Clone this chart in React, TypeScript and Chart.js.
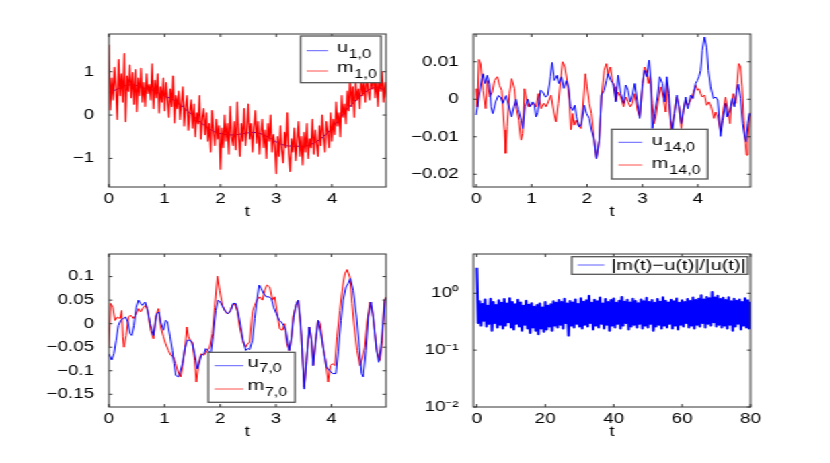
import React, { useEffect, useRef } from "react";
import Chart from "chart.js/auto";

// the original figure is stretched sideways, so everything is drawn narrow and scaled in x
const S = 1.345;
const FONT = "'Liberation Sans', Arial, sans-serif";
const BLUE = "#0000ff";
const RED = "#ff0000";

// ---- panel 1: u_{1,0} (every 0.1) and m_{1,0} (every 0.025)
const u10Dt = 0.1;
const u10 = [
  0.52, 0.57, 0.63, 0.68, 0.7, 0.68, 0.63, 0.6, 0.57, 0.5,
  0.43, 0.39, 0.32, 0.22, 0.1, 0.0, -0.12, -0.23, -0.32, -0.39,
  -0.43, -0.45, -0.46, -0.45, -0.43, -0.41, -0.4, -0.42, -0.47, -0.54,
  -0.62, -0.68, -0.71, -0.72, -0.72, -0.72, -0.7, -0.63, -0.55, -0.44,
  -0.31, -0.15, 0.02, 0.17, 0.3, 0.42, 0.53, 0.61, 0.65, 0.6, 0.48,
];
const m10Dt = 0.025;
const m10 = [
  1.62, 0.12, 0.85, 0.35, 1.1, 0.6, -0.1, 1.28, 0.45, 0.95,
  0.3, 1.42, -0.15, 0.9, 0.55, 1.15, 0.4, 0.98, 0.25, 1.05,
  0.08, 0.85, 0.45, 1.08, 0.3, 0.75, 0.2, 0.95, 0.5, 0.7,
  0.35, 1.18, 0.15, 0.8, 0.4, 0.95, 0.05, 0.65, 0.3, 0.85,
  0.1, 0.75, 0.35, -0.05, 0.6, 0.2, 0.9, -0.18, 0.45, 0.15,
  0.55, -0.1, 0.3, 0.65, -0.25, 0.2, 0.45, -0.35, 0.1, 0.35,
  -0.3, 0.25, -0.5, 0.05, -0.2, 0.45, -0.55, -0.05, 0.15, -0.45,
  0.05, -0.6, -0.2, -0.85, 0.1, -0.4, -0.7, -0.1, -0.55, -0.25,
  -1.25, -0.3, -0.75, 0.0, -0.6, -0.2, -0.9, 0.2, -0.5, -0.7,
  -0.15, -0.8, 0.3, -0.45, -0.95, -0.2, -0.6, 0.15, -0.7, -0.35,
  0.25, -0.55, -0.2, -0.85, -0.3, 0.1, -0.65, -0.15, -0.9, -0.4,
  -0.1, -0.75, -0.35, -1.0, -0.2, -0.6, 0.0, -0.85, -0.45, -0.7,
  -1.35, -0.5, -0.95, -0.25, -0.8, -1.1, -0.4, -0.75, 0.05, -0.9,
  -1.3, -0.55, -0.85, -0.3, -1.05, -0.6, -0.15, -0.95, -0.5, -1.15,
  -0.4, -0.85, -0.2, -1.0, -0.55, -0.75, -0.1, -0.9, -0.35, -0.65,
  -0.95, -0.25, -0.7, 0.0, -0.5, -0.85, -0.15, -0.4, -0.75, 0.05,
  -0.6, -0.1, -0.45, 0.3, -0.25, 0.05, -0.5, 0.45, -0.05, 0.25,
  -0.2, 0.55, 0.1, 0.9, 0.2, 0.65, -0.05, 0.8, 0.35, 0.6,
  0.15, 0.95, 0.45, 0.75, 0.3, 1.0, 0.55, 0.35, 0.9, 0.6,
  1.05, 0.4, 0.85, 0.2, 0.95, 0.55, 1.0, 0.3, 0.75, 0.4,
];

// ---- panel 2: u_{14,0}, m_{14,0}
const u14T = [
  0, 0.05, 0.1, 0.125, 0.16, 0.2, 0.24, 0.27, 0.3, 0.35,
  0.4, 0.44, 0.48, 0.54, 0.58, 0.64, 0.68, 0.72, 0.76, 0.81,
  0.84, 0.88, 0.93, 0.97, 1.02, 1.05, 1.08, 1.11, 1.16, 1.2,
  1.25, 1.29, 1.34, 1.37, 1.41, 1.46, 1.49, 1.54, 1.58, 1.63,
  1.67, 1.7, 1.74, 1.78, 1.81, 1.86, 1.9, 1.95, 1.99, 2.04,
  2.08, 2.13, 2.17, 2.22, 2.26, 2.31, 2.35, 2.38, 2.43, 2.47,
  2.52, 2.56, 2.61, 2.66, 2.7, 2.74, 2.78, 2.82, 2.86, 2.91,
  2.95, 3.0, 3.04, 3.08, 3.12, 3.15, 3.18, 3.22, 3.27, 3.31,
  3.36, 3.4, 3.44, 3.48, 3.51, 3.54, 3.58, 3.62, 3.66, 3.7,
  3.74, 3.78, 3.82, 3.87, 3.91, 3.96, 3.99, 4.02, 4.05, 4.08,
  4.12, 4.16, 4.19, 4.23, 4.28, 4.32, 4.36, 4.41, 4.45, 4.5,
  4.53, 4.58, 4.62, 4.66, 4.7, 4.73, 4.77, 4.81, 4.84, 4.87,
  4.9, 4.93, 4.97,
];
const u14 = [
  -0.0042, 0.0006, 0.0055, 0.0068, 0.0042, 0.0064, 0.004, -0.002, -0.0038, -0.0007,
  0.001, 0.0006, -0.0011, 0.001, -0.0013, -0.0047, -0.002, 0.0, -0.0027, -0.0056,
  -0.0078, -0.002, 0.0, -0.002, -0.0007, -0.0015, -0.0047, -0.0035, 0.0024, 0.002,
  0.0006, 0.001, 0.006, 0.0098, 0.005, 0.0064, 0.0042, 0.006, 0.0029, 0.005,
  0.0029, -0.0019, -0.003, -0.0016, -0.0047, -0.0074, -0.0065, -0.0016, -0.0038, -0.0051,
  -0.0082, -0.0109, -0.0158, -0.0109, 0.0011, 0.0024, 0.005, 0.0068, 0.005, 0.0042,
  -0.0007, 0.0064, 0.0015, -0.0011, 0.0038, 0.0024, -0.0007, 0.0011, 0.0042, -0.0007,
  -0.0051, 0.0042, 0.0077, 0.006, 0.0104, 0.005, -0.0078, -0.0038, 0.0006, 0.006,
  0.0042, -0.0007, 0.006, 0.0015, -0.0056, -0.0082, -0.0038, 0.0011, -0.002, -0.0065,
  -0.0029, 0.0006, -0.0025, 0.0011, 0.0002, 0.0042, 0.005, 0.006, 0.0077, 0.013,
  0.0166, 0.0139, 0.0077, 0.0033, 0.0002, 0.0006, -0.0002, -0.0099, -0.0056, -0.0011,
  -0.0047, -0.0029, 0.0002, -0.002, 0.0024, 0.004, 0.0002, -0.0065, -0.0095, -0.0113,
  -0.0065, -0.0038, -0.0047,
];
const m14T = [
  0, 0.02, 0.05, 0.08, 0.125, 0.17, 0.2, 0.245, 0.29, 0.33,
  0.38, 0.42, 0.46, 0.51, 0.53, 0.56, 0.6, 0.64, 0.69, 0.72,
  0.77, 0.81, 0.84, 0.87, 0.9, 0.94, 0.99, 1.04, 1.08, 1.12,
  1.17, 1.22, 1.26, 1.3, 1.35, 1.4, 1.44, 1.48, 1.53, 1.56,
  1.6, 1.64, 1.68, 1.71, 1.74, 1.77, 1.8, 1.84, 1.89, 1.94,
  1.97, 2.0, 2.04, 2.08, 2.13, 2.17, 2.22, 2.26, 2.31, 2.35,
  2.38, 2.42, 2.46, 2.5, 2.52, 2.56, 2.61, 2.66, 2.7, 2.74,
  2.78, 2.82, 2.86, 2.91, 2.95, 3.0, 3.04, 3.08, 3.11, 3.14,
  3.18, 3.21, 3.24, 3.28, 3.33, 3.38, 3.42, 3.45, 3.48, 3.52,
  3.57, 3.62, 3.66, 3.7, 3.74, 3.78, 3.82, 3.87, 3.92, 3.96,
  3.99, 4.02, 4.05, 4.08, 4.12, 4.16, 4.2, 4.24, 4.29, 4.32,
  4.36, 4.41, 4.46, 4.5, 4.54, 4.58, 4.6, 4.64, 4.68, 4.71,
  4.74, 4.77, 4.8, 4.83, 4.86, 4.88, 4.9, 4.93, 4.97,
];
const m14 = [
  0.0028, -0.002, 0.0106, 0.0094, 0.0024, -0.0025, 0.005, 0.0006, 0.0019, 0.005,
  0.006, 0.0037, 0.0024, -0.0082, -0.0144, -0.0073, 0.0015, 0.0055, 0.0028, -0.002,
  -0.0056, -0.0109, -0.0091, 0.0028, 0.0006, -0.002, -0.0016, -0.0011, -0.002, 0.0015,
  -0.0025, -0.0011, -0.002, -0.0007, 0.0011, -0.0034, -0.006, -0.0011, 0.006, 0.01,
  0.0086, 0.005, -0.0003, -0.0081, -0.0038, -0.0069, -0.0056, -0.0069, -0.0078, 0.0006,
  0.0068, 0.0033, -0.0011, -0.0038, -0.0109, -0.0158, -0.0109, 0.0006, 0.0077, 0.0095,
  0.0064, 0.0086, 0.0046, 0.0033, -0.0003, 0.0019, 0.0006, -0.002, 0.0006, -0.0007,
  -0.002, -0.0011, 0.0015, -0.0029, -0.0047, 0.0033, 0.0086, 0.0068, 0.0042, 0.0064,
  -0.0011, -0.0065, -0.0047, -0.0007, 0.0033, 0.0002, -0.0034, 0.0042, -0.0011, -0.0082,
  -0.0038, 0.0006, -0.002, -0.0078, -0.0029, -0.0003, -0.0016, -0.0003, 0.0019, 0.0037,
  0.0024, 0.0028, 0.0015, 0.0006, 0.0011, -0.0016, -0.0007, -0.002, -0.0051, -0.0034,
  -0.0047, -0.0086, -0.0029, 0.0006, -0.0029, -0.0065, -0.002, 0.0015, -0.0011, 0.0042,
  0.0095, 0.0086, 0.0033, -0.0056, -0.0117, -0.0149, -0.0109, -0.0047, -0.0029,
];

// ---- panel 3: u_{7,0}, m_{7,0}
const u7T = [
  0, 0.05, 0.09, 0.13, 0.17, 0.21, 0.26, 0.3, 0.34, 0.38,
  0.41, 0.45, 0.49, 0.53, 0.57, 0.6, 0.65, 0.69, 0.74, 0.8,
  0.86, 0.9, 0.93, 0.98, 1.02, 1.05, 1.1, 1.14, 1.17, 1.2,
  1.25, 1.28, 1.32, 1.37, 1.41, 1.46, 1.5, 1.54, 1.59, 1.62,
  1.66, 1.71, 1.74, 1.78, 1.83, 1.87, 1.92, 1.96, 2.0, 2.05,
  2.1, 2.14, 2.19, 2.23, 2.28, 2.32, 2.37, 2.41, 2.46, 2.5,
  2.53, 2.58, 2.62, 2.66, 2.7, 2.74, 2.78, 2.83, 2.88, 2.92,
  2.96, 3.01, 3.06, 3.1, 3.14, 3.18, 3.21, 3.24, 3.28, 3.32,
  3.36, 3.4, 3.44, 3.47, 3.51, 3.55, 3.6, 3.64, 3.67, 3.72,
  3.76, 3.82, 3.87, 3.91, 3.96, 4.02, 4.08, 4.12, 4.17, 4.21,
  4.26, 4.3, 4.34, 4.39, 4.45, 4.5, 4.54, 4.57, 4.62, 4.66,
  4.71, 4.75, 4.81, 4.85, 4.9, 4.96, 4.98,
];
const u7 = [
  -0.064, -0.077, -0.064, -0.035, -0.004, 0.007, 0.011, 0.014, 0.0035, -0.021,
  -0.025, -0.0035, 0.035, 0.05, 0.043, 0.039, 0.046, 0.032, 0.0, -0.025,
  0.021, 0.025, 0.0035, -0.014, 0.007, 0.004, -0.028, -0.057, -0.085, -0.11,
  -0.113, -0.103, -0.085, -0.05, -0.035, -0.035, -0.043, -0.064, -0.096, -0.085,
  -0.067, -0.064, -0.053, -0.057, -0.064, -0.028, 0.028, 0.05, 0.046, 0.035,
  0.025, 0.021, 0.028, 0.043, 0.043, 0.025, -0.007, -0.035, -0.057, -0.053,
  -0.055, -0.035, 0.011, 0.05, 0.082, 0.074, 0.064, 0.057, 0.057, 0.053,
  0.035, 0.021, 0.007, 0.0035, -0.0035, -0.014, -0.039, -0.057, -0.03, 0.014,
  0.039, 0.05, 0.01, -0.05, -0.139, -0.08, -0.007, -0.035, -0.089, -0.035,
  0.007, -0.028, -0.064, -0.092, -0.099, -0.106, -0.106, -0.06, 0.007, 0.05,
  0.078, 0.085, 0.096, 0.071, 0.014, -0.05, -0.106, -0.113, -0.057, 0.014,
  0.046, 0.014, -0.057, -0.082, -0.035, 0.05, 0.055,
];
const m7T = [
  0, 0.03, 0.07, 0.11, 0.15, 0.2, 0.23, 0.25, 0.27, 0.31,
  0.35, 0.39, 0.44, 0.49, 0.53, 0.57, 0.62, 0.66, 0.7, 0.75,
  0.8, 0.84, 0.89, 0.93, 0.98, 1.02, 1.07, 1.11, 1.16, 1.2,
  1.25, 1.29, 1.32, 1.37, 1.4, 1.43, 1.46, 1.5, 1.54, 1.57,
  1.62, 1.66, 1.71, 1.75, 1.81, 1.86, 1.9, 1.95, 1.99, 2.04,
  2.08, 2.13, 2.17, 2.22, 2.26, 2.31, 2.35, 2.41, 2.46, 2.49,
  2.53, 2.58, 2.62, 2.66, 2.71, 2.76, 2.8, 2.84, 2.89, 2.94,
  2.98, 3.02, 3.07, 3.12, 3.16, 3.2, 3.24, 3.28, 3.31, 3.36,
  3.4, 3.46, 3.51, 3.55, 3.6, 3.64, 3.67, 3.72, 3.76, 3.8,
  3.85, 3.9, 3.94, 3.98, 4.02, 4.06, 4.1, 4.15, 4.2, 4.24,
  4.28, 4.33, 4.37, 4.41, 4.46, 4.51, 4.56, 4.6, 4.64, 4.69,
  4.74, 4.78, 4.82, 4.87, 4.91, 4.95, 4.98,
];
const m7 = [
  -0.05, 0.043, 0.035, 0.007, 0.014, 0.011, 0.028, -0.028, -0.05, -0.025,
  0.014, 0.018, 0.011, 0.021, 0.032, 0.025, 0.035, 0.039, 0.025, -0.014,
  -0.032, 0.014, 0.032, -0.007, -0.028, -0.043, -0.057, -0.067, -0.071, -0.085,
  -0.106, -0.113, -0.092, -0.05, -0.007, -0.028, -0.035, -0.039, -0.078, -0.124,
  -0.078, -0.064, -0.067, -0.06, -0.05, -0.021, 0.035, 0.101, 0.071, 0.039,
  0.028, 0.021, 0.025, 0.039, 0.043, 0.025, -0.007, -0.039, -0.05, -0.043,
  -0.039, 0.025, 0.039, 0.05, 0.057, 0.05, 0.071, 0.082, 0.078, 0.05,
  0.057, 0.025, -0.011, -0.014, 0.0, -0.043, -0.057, -0.03, 0.014, 0.039,
  0.05, -0.028, -0.135, -0.078, -0.007, -0.035, -0.089, -0.028, 0.007, 0.0,
  -0.05, -0.085, -0.124, -0.089, -0.085, -0.089, -0.028, 0.028, 0.078, 0.106,
  0.115, 0.099, 0.043, -0.007, -0.057, -0.089, -0.071, -0.05, 0.0035, 0.046,
  0.021, -0.021, -0.06, -0.078, -0.043, 0.05, 0.057,
];

// ---- panel 4: |m(t)-u(t)|/|u(t)|, every 0.4
const errDt = 0.4;
const err = [
  2.8,
  0.3, 0.72, 0.27, 0.65, 0.33, 0.78, 0.26, 0.6, 0.29, 0.8, 0.22, 0.7, 0.3, 0.62, 0.25, 0.75, 0.28, 0.68, 0.24, 0.79,
  0.27, 0.66, 0.31, 0.82, 0.25, 0.7, 0.23, 0.64, 0.29, 0.77, 0.26, 0.69, 0.22, 0.6, 0.28, 0.74, 0.24, 0.63, 0.2, 0.67,
  0.25, 0.58, 0.22, 0.62, 0.19, 0.66, 0.24, 0.56, 0.21, 0.7, 0.23, 0.6, 0.26, 0.64, 0.22, 0.72, 0.27, 0.68, 0.25, 0.76,
  0.28, 0.7, 0.24, 0.8, 0.3, 0.66, 0.18, 0.73, 0.27, 0.69, 0.25, 0.78, 0.29, 0.65, 0.26, 0.82, 0.24, 0.71, 0.28, 0.75,
  0.26, 0.9, 0.3, 0.68, 0.23, 0.77, 0.27, 0.72, 0.25, 0.84, 0.29, 0.66, 0.24, 0.79, 0.28, 0.7, 0.22, 0.76, 0.27, 0.81,
  0.25, 0.68, 0.29, 0.74, 0.24, 0.86, 0.27, 0.71, 0.3, 0.77, 0.23, 0.69, 0.26, 0.8, 0.28, 0.73, 0.25, 0.67, 0.29, 0.78,
  0.24, 0.72, 0.27, 0.83, 0.25, 0.7, 0.29, 0.76, 0.22, 0.68, 0.26, 0.79, 0.28, 0.71, 0.24, 0.85, 0.27, 0.74, 0.25, 0.69,
  0.29, 0.77, 0.24, 0.72, 0.27, 0.81, 0.23, 0.68, 0.28, 0.75, 0.26, 0.7, 0.3, 0.79, 0.25, 0.73, 0.27, 0.84, 0.24, 0.76,
  0.28, 0.8, 0.26, 0.92, 0.3, 0.78, 0.25, 0.86, 0.29, 0.82, 0.27, 1.05, 0.31, 0.84, 0.26, 0.9, 0.28, 0.79, 0.25, 0.83,
  0.27, 0.76, 0.24, 0.85, 0.28, 0.72, 0.22, 0.8, 0.26, 0.74, 0.29, 0.78, 0.23, 0.7, 0.27, 0.82, 0.25, 0.75, 0.24, 0.71,
];

// ---- ticks
const tTicks = [0, 1, 2, 3, 4];
const tLabels = ["0", "1", "2", "3", "4"];
const errTicks = [0, 20, 40, 60, 80];
const errLabels = ["0", "20", "40", "60", "80"];
const y1Ticks = [-1, 0, 1];
const y1Labels = ["\u22121", "0", "1"];
const y2Ticks = [-0.02, -0.01, 0, 0.01];
const y2Labels = ["\u22120.02", "\u22120.01", "0", "0.01"];
const y3Ticks = [-0.15, -0.1, -0.05, 0, 0.05, 0.1];
const y3Labels = ["\u22120.15", "\u22120.1", "\u22120.05", "0", "0.05", "0.1"];
const y4Ticks = [0.01, 0.1, 1];
const y4Labels = ["10\u207B\u00B2", "10\u207B\u00B9", "10\u2070"];

type Pt = { x: number; y: number };
const stepped = (dt: number, ys: number[]): Pt[] => ys.map((y, i) => ({ x: i * dt, y }));
const paired = (ts: number[], ys: number[]): Pt[] => ts.map((x, i) => ({ x, y: ys[i] }));

type Row = { color: string; main: string; sub?: string };
type Legend = {
  box: [number, number, number, number]; // page px
  line: [number, number];
  textX: number;
  rowsY: number[];
  dy: number;
  subDy: number;
  rows: Row[];
};

type PanelProps = {
  area: [number, number, number, number]; // page px: left, top, right, bottom
  series: { data: Pt[]; color: string; width?: number }[];
  x: [number, number];
  y: [number, number];
  log?: boolean;
  xTicks: number[];
  xLabels: string[];
  yTicks: number[];
  yLabels: string[];
  legend: Legend;
};

function Panel(p: PanelProps) {
  const ref = useRef<HTMLCanvasElement>(null);
  const left = p.area[0] / S - 60;
  const top = p.area[1] - 20;
  const width = Math.round((p.area[2] - p.area[0]) / S) + 80;
  const height = Math.round(p.area[3] - p.area[1]) + 65;

  useEffect(() => {
    const font = { family: FONT, size: 14 };
    const lg = p.legend;
    const X = (px: number) => px / S - left;
    const Y = (py: number) => py - top;

    const frame = {
      id: "frame",
      afterDatasetsDraw(chart: any) {
        const { ctx, chartArea: a, scales } = chart;
        ctx.save();
        ctx.strokeStyle = "#333";
        ctx.lineWidth = 1;
        ctx.strokeRect(a.left, a.top, a.right - a.left, a.bottom - a.top);
        ctx.beginPath();
        for (const v of p.xTicks) {
          const px = scales.x.getPixelForValue(v);
          ctx.moveTo(px, a.bottom);
          ctx.lineTo(px, a.bottom - 3);
          ctx.moveTo(px, a.top);
          ctx.lineTo(px, a.top + 3);
        }
        for (const v of p.yTicks) {
          const py = scales.y.getPixelForValue(v);
          ctx.moveTo(a.left, py);
          ctx.lineTo(a.left + 2.5, py);
          ctx.moveTo(a.right, py);
          ctx.lineTo(a.right - 2.5, py);
        }
        ctx.stroke();

        // legend box
        const [bx0, by0, bx1, by1] = lg.box;
        ctx.fillStyle = "#fff";
        ctx.fillRect(X(bx0), Y(by0), X(bx1) - X(bx0), Y(by1) - Y(by0));
        ctx.strokeStyle = "#555";
        ctx.lineWidth = 1.3;
        ctx.strokeRect(X(bx0), Y(by0), X(bx1) - X(bx0), Y(by1) - Y(by0));
        lg.rows.forEach((r, i) => {
          const yy = Y(lg.rowsY[i]);
          ctx.strokeStyle = r.color;
          ctx.lineWidth = 1;
          ctx.beginPath();
          ctx.moveTo(X(lg.line[0]), yy);
          ctx.lineTo(X(lg.line[1]), yy);
          ctx.stroke();
          ctx.fillStyle = "#000";
          ctx.textAlign = "left";
          ctx.textBaseline = "alphabetic";
          ctx.font = `15px ${FONT}`;
          const tx = X(lg.textX);
          ctx.fillText(r.main, tx, yy + lg.dy);
          if (r.sub) {
            const w = ctx.measureText(r.main).width;
            ctx.font = `12px ${FONT}`;
            ctx.fillText(r.sub, tx + w + 0.5, yy + lg.dy + lg.subDy);
          }
        });
        ctx.restore();
      },
    };

    const chart = new Chart(ref.current!, {
      type: "line",
      data: {
        datasets: p.series.map((s) => ({
          data: s.data,
          borderColor: s.color,
          borderWidth: s.width ?? 1,
          borderJoinStyle: "round" as const,
          pointRadius: 0,
          tension: 0,
          fill: false,
          clip: 0,
        })),
      },
      options: {
        animation: false,
        responsive: false,
        events: [],
        layout: { padding: { top: 20, right: 20, left: 0, bottom: 0 } },
        plugins: { legend: { display: false }, tooltip: { enabled: false } },
        scales: {
          x: {
            type: "linear",
            min: p.x[0],
            max: p.x[1],
            bounds: "data",
            afterBuildTicks: (s: any) => {
              s.ticks = p.xTicks.map((value) => ({ value }));
            },
            afterFit: (s: any) => {
              s.height = 45;
            },
            grid: { display: false },
            border: { display: false },
            ticks: {
              font,
              color: "#000",
              padding: -4,
              maxRotation: 0,
              autoSkip: false,
              callback: (_v: any, i: number) => p.xLabels[i],
            },
            title: { display: true, text: "t", font, color: "#000", padding: { top: 0, bottom: 11 } },
          },
          y: {
            type: p.log ? "logarithmic" : "linear",
            min: p.y[0],
            max: p.y[1],
            bounds: "data",
            afterBuildTicks: (s: any) => {
              s.ticks = p.yTicks.map((value) => ({ value }));
            },
            afterFit: (s: any) => {
              s.width = 60;
            },
            grid: { display: false },
            border: { display: false },
            ticks: {
              font,
              color: "#000",
              padding: 3,
              autoSkip: false,
              callback: (_v: any, i: number) => p.yLabels[i],
            },
          },
        },
      } as any,
      plugins: [frame],
    });
    return () => {
      chart.destroy();
    };
  }, []);

  return <canvas ref={ref} width={width} height={height} style={{ position: "absolute", left, top }} />;
}

const LBLUE = "#6060ff";
const LRED = "#ff5050";

export default function App() {
  return (
    <div
      style={{
        position: "fixed",
        left: 0,
        top: 0,
        width: 830 / S,
        height: 463,
        background: "#fff",
        transform: `scaleX(${S})`,
        transformOrigin: "0 0",
        overflow: "hidden",
      }}
    >
      <Panel
        area={[109, 34, 386, 187]}
        series={[
          { data: stepped(m10Dt, m10), color: RED, width: 1.2 },
          { data: stepped(u10Dt, u10), color: BLUE },
        ]}
        x={[0, 4.97]}
        y={[-1.66, 1.87]}
        xTicks={tTicks}
        xLabels={tLabels}
        yTicks={y1Ticks}
        yLabels={y1Labels}
        legend={{
          box: [300.7, 36, 381, 82.7],
          line: [306.7, 328],
          textX: 337,
          rowsY: [50.7, 71],
          dy: 1,
          subDy: 6,
          rows: [
            { color: LBLUE, main: "u", sub: "1,0" },
            { color: LRED, main: "m", sub: "1,0" },
          ],
        }}
      />
      <Panel
        area={[474, 34, 751.7, 187]}
        series={[
          { data: paired(u14T, u14), color: BLUE },
          { data: paired(m14T, m14), color: RED },
        ]}
        x={[-0.05, 4.95]}
        y={[-0.0234, 0.0174]}
        xTicks={tTicks}
        xLabels={tLabels}
        yTicks={y2Ticks}
        yLabels={y2Labels}
        legend={{
          box: [612.3, 129.3, 708.3, 179],
          line: [619, 642.7],
          textX: 652.3,
          rowsY: [142.3, 165],
          dy: 2.5,
          subDy: 6,
          rows: [
            { color: LBLUE, main: "u", sub: "14,0" },
            { color: LRED, main: "m", sub: "14,0" },
          ],
        }}
      />
      <Panel
        area={[108.3, 254, 386, 407]}
        series={[
          { data: paired(u7T, u7), color: BLUE },
          { data: paired(m7T, m7), color: RED },
        ]}
        x={[0, 4.98]}
        y={[-0.177, 0.148]}
        xTicks={tTicks}
        xLabels={tLabels}
        yTicks={y3Ticks}
        yLabels={y3Labels}
        legend={{
          box: [207.7, 352.3, 294.3, 402.3],
          line: [214, 242.7],
          textX: 246.7,
          rowsY: [365.7, 389],
          dy: 1,
          subDy: 5.5,
          rows: [
            { color: LBLUE, main: "u", sub: "7,0" },
            { color: LRED, main: "m", sub: "7,0" },
          ],
        }}
      />
      <Panel
        area={[474, 254, 751.7, 407]}
        series={[{ data: stepped(errDt, err), color: BLUE, width: 2 }]}
        x={[-1, 80]}
        y={[0.01, 4.9]}
        log
        xTicks={errTicks}
        xLabels={errLabels}
        yTicks={y4Ticks}
        yLabels={y4Labels}
        legend={{
          box: [572.3, 256.7, 748.3, 274.3],
          line: [578.3, 605],
          textX: 611.7,
          rowsY: [265],
          dy: 5,
          subDy: 0,
          rows: [{ color: LBLUE, main: "|m(t)\u2212u(t)|/|u(t)|" }],
        }}
      />
    </div>
  );
}
